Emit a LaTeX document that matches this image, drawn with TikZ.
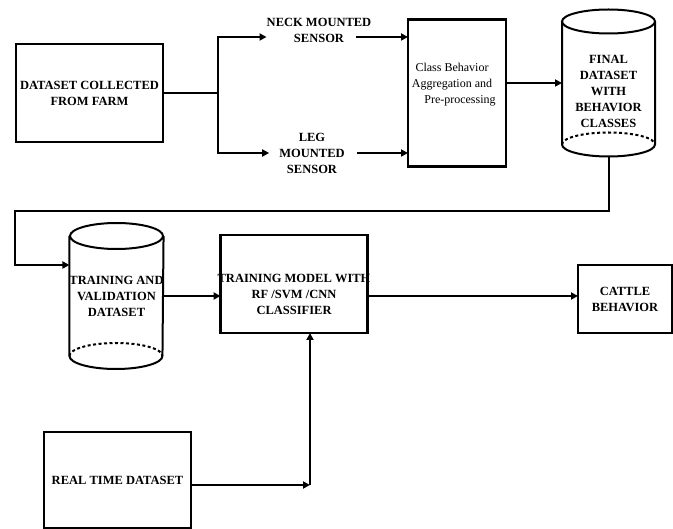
\documentclass[tikz,border=0pt]{standalone}
\usepackage{fontspec}
\setmainfont{Liberation Serif}
\usetikzlibrary{arrows.meta, positioning, calc}

% cylinder outline round an (invisible) drum node
\newcommand{\drumoutline}[3]{%
  \draw[drumline] ([yshift=-#3]#1.north) ellipse[x radius=#2, y radius=#3];
  \draw[drumline] ([yshift=-#3]#1.north west) -- ([yshift=#3]#1.south west)
    arc[start angle=180, end angle=360, x radius=#2, y radius=#3] -- ([yshift=-#3]#1.north east);
  \draw[drumline, dash pattern=on 3pt off 2.5pt] ([yshift=#3]#1.south west)
    arc[start angle=180, end angle=0, x radius=#2, y radius=#3];
}

\begin{document}
\begin{tikzpicture}[
    x=1pt, y=-1pt,
    font=\fontsize{12.5}{16}\selectfont\bfseries,
    block/.style={rectangle, draw, line width=2.8pt, outer sep=0pt, align=center},
    thinblock/.style={rectangle, draw, line width=1.8pt, outer sep=0pt, align=center},
    drum/.style={rectangle, outer sep=0pt, inner sep=0pt, minimum width=93pt, minimum height=147pt, align=center},
    drumline/.style={line width=2pt},
    sensor/.style={inner sep=0pt, align=center},
    link/.style={line width=2pt},
    flow/.style={-{Triangle[length=7pt, width=7pt]}, line width=2pt},
  ]
  \useasboundingbox (0,0) rectangle (673,529);
  % Source
  \node[block, minimum width=147pt, minimum height=98pt] (farm) at (89.5,93) {DATASET COLLECTED\\FROM FARM};
  % Sensors
  \node[sensor] (neck) at (319,30) {NECK MOUNTED\\SENSOR};
  \node[sensor] (leg) at (312,153) {LEG\\MOUNTED\\SENSOR};
  % Pre-processing
  \node[block, line width=2.4pt, minimum width=98pt, minimum height=147pt, right=245pt of farm,
        label={[font=\fontsize{12}{16}\selectfont, align=center, xshift=-5pt, yshift=8.5pt]center:Class Behavior\\Aggregation and\\\hspace*{16pt}Pre-processing}] (agg) {};
  % Final dataset
  \node[drum, right=56pt of agg, yshift=10pt,
        label={[align=center, yshift=-8.5pt]center:FINAL\\DATASET\\WITH\\BEHAVIOR\\CLASSES}] (final) {};
  \drumoutline{final}{46.5pt}{12pt}
  % Training data
  \node[drum, minimum height=146pt] (train) at (116.5,296) {TRAINING AND\\VALIDATION\\DATASET};
  \drumoutline{train}{46.5pt}{13pt}
  % Model
  \node[block, minimum width=147pt, minimum height=98pt, right=57pt of train, yshift=12pt,
        label={[align=center, yshift=-10pt]center:TRAINING MODEL WITH\\RF /SVM /CNN\\CLASSIFIER}] (model) {};
  \node[thinblock, minimum width=94pt, minimum height=68pt] (cattle) at (625,299) {CATTLE\\BEHAVIOR};
  \node[block, minimum width=147pt, minimum height=96pt] (realtime) at (117.5,480) {REAL TIME DATASET};
  % Bends
  \coordinate (split) at (218,93);
  \coordinate (loop) at (15,211);
  \coordinate (join) at (310,485);
  % Connections
  \draw[link] (farm.east) -- (split);
  \draw[flow] (split) |- ([yshift=-7pt]neck.west);
  \draw[flow] (split) |- ([xshift=-10pt]leg.west);
  \draw[flow] ([xshift=-15pt, yshift=-7pt]neck.east) -- ([yshift=-7pt]neck.east -| agg.west);
  \draw[flow] ([xshift=12pt]leg.east) -- (leg.east -| agg.west);
  \draw[flow] (final.west -| agg.east) -- (final.west);
  \draw[flow] (final.south) |- (loop) |- ([yshift=31pt]train.west);
  \draw[flow] (train.east) -- (train.east -| model.west);
  \draw[flow] (model.east |- train.east) -- (cattle.west |- train.east);
  \draw[flow] ([yshift=-5pt]realtime.east) -- (join);
  \draw[flow] (join) -- (model.south -| join);
\end{tikzpicture}
\end{document}
